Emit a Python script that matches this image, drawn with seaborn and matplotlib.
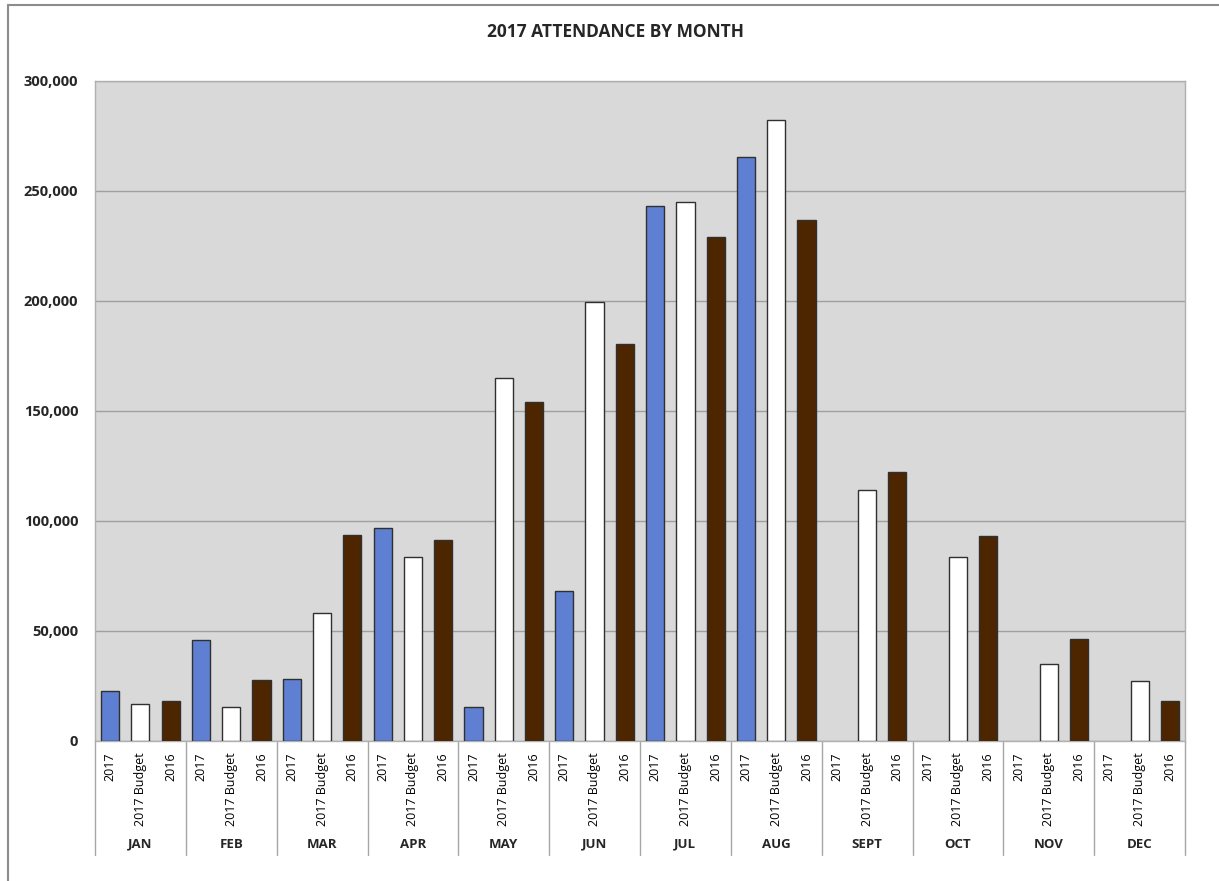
import numpy as np
import pandas as pd
import matplotlib
matplotlib.use("Agg")
import matplotlib.pyplot as plt
import matplotlib.transforms as mtransforms
from matplotlib.lines import Line2D
import seaborn as sns

months = ["JAN", "FEB", "MAR", "APR", "MAY", "JUN", "JUL", "AUG", "SEPT", "OCT", "NOV", "DEC"]
series = ["2017", "2017 Budget", "2016"]

att_2017 = [22800, 45900, 28000, 96800, 15500, 68200, 243300, 265600,
            np.nan, np.nan, np.nan, np.nan]
att_budget = [16600, 15500, 58100, 83600, 165200, 199500, 244900, 282400,
              114100, 83600, 35100, 27500]
att_2016 = [18200, 27700, 93600, 91300, 153900, 180500, 229000, 236700,
            122300, 93300, 46400, 18200]

colors = {"2017": "#5F7FD3", "2017 Budget": "#FFFFFF", "2016": "#4D2600"}

rows = []
for i, m in enumerate(months):
    for s, vals in zip(series, [att_2017, att_budget, att_2016]):
        rows.append({"key": f"{m} {s}", "month": m, "series": s, "value": vals[i]})
df = pd.DataFrame(rows)

sns.set_style("white")
plt.rcParams["font.family"] = ["Open Sans", "DejaVu Sans"]

fig = plt.figure(figsize=(12.19, 8.81), dpi=100)
ax = fig.add_axes([95 / 1219, 1 - 741 / 881, (1185 - 95) / 1219, (741 - 81) / 881])
ax.set_facecolor("#D9D9D9")

sns.barplot(data=df, x="key", y="value", hue="series", order=list(df["key"]),
            palette=colors, saturation=1, dodge=False, width=0.6, errorbar=None,
            legend=False, edgecolor="#303030", linewidth=1, ax=ax, zorder=3)

ax.set_xlim(-0.5, len(df) - 0.5)
ax.set_ylim(0, 300000)
ax.set_yticks(range(0, 300001, 50000))
ax.set_yticklabels([f"{v:,}" for v in range(0, 300001, 50000)],
                   fontsize=10.5, fontweight="bold")
ax.yaxis.grid(True, color="#A0A0A0", linewidth=1, zorder=0)
ax.set_axisbelow(True)
ax.tick_params(axis="both", length=0)
ax.tick_params(axis="y", pad=12)
ax.set_xticks(range(len(df)))
ax.set_xticklabels(df["series"], rotation=90, fontsize=9, color="black",
                   va="top")
ax.tick_params(axis="x", pad=8)
ax.set_xlabel("")
ax.set_ylabel("")
for sp in ax.spines.values():
    sp.set_color("#B0B0B0")
    sp.set_linewidth(1)

# month group labels and separators
trans = mtransforms.blended_transform_factory(ax.transData, ax.transAxes)
sep_depth = -(855 - 741) / 660
for k in range(len(months) + 1):
    x = 3 * k - 0.5
    ax.add_line(Line2D([x, x], [0, sep_depth], transform=trans, color="#A6A6A6",
                       linewidth=1, clip_on=False))
for i, m in enumerate(months):
    ax.text(3 * i + 1, -(844 - 741) / 660, m, transform=trans, ha="center",
            va="center", fontsize=9.5, fontweight="bold")

fig.text(615 / 1219, 1 - 32 / 881, "2017 ATTENDANCE BY MONTH", ha="center",
         va="center", fontsize=12.5, fontweight="bold")

# outer chart border
fig.add_artist(Line2D([8 / 1219, 8 / 1219], [0, 1 - 5 / 881], color="#8C8C8C", linewidth=1.5))
fig.add_artist(Line2D([8 / 1219, 1], [1 - 5 / 881, 1 - 5 / 881], color="#8C8C8C", linewidth=1.5))

fig.savefig("out.png", dpi=100)
